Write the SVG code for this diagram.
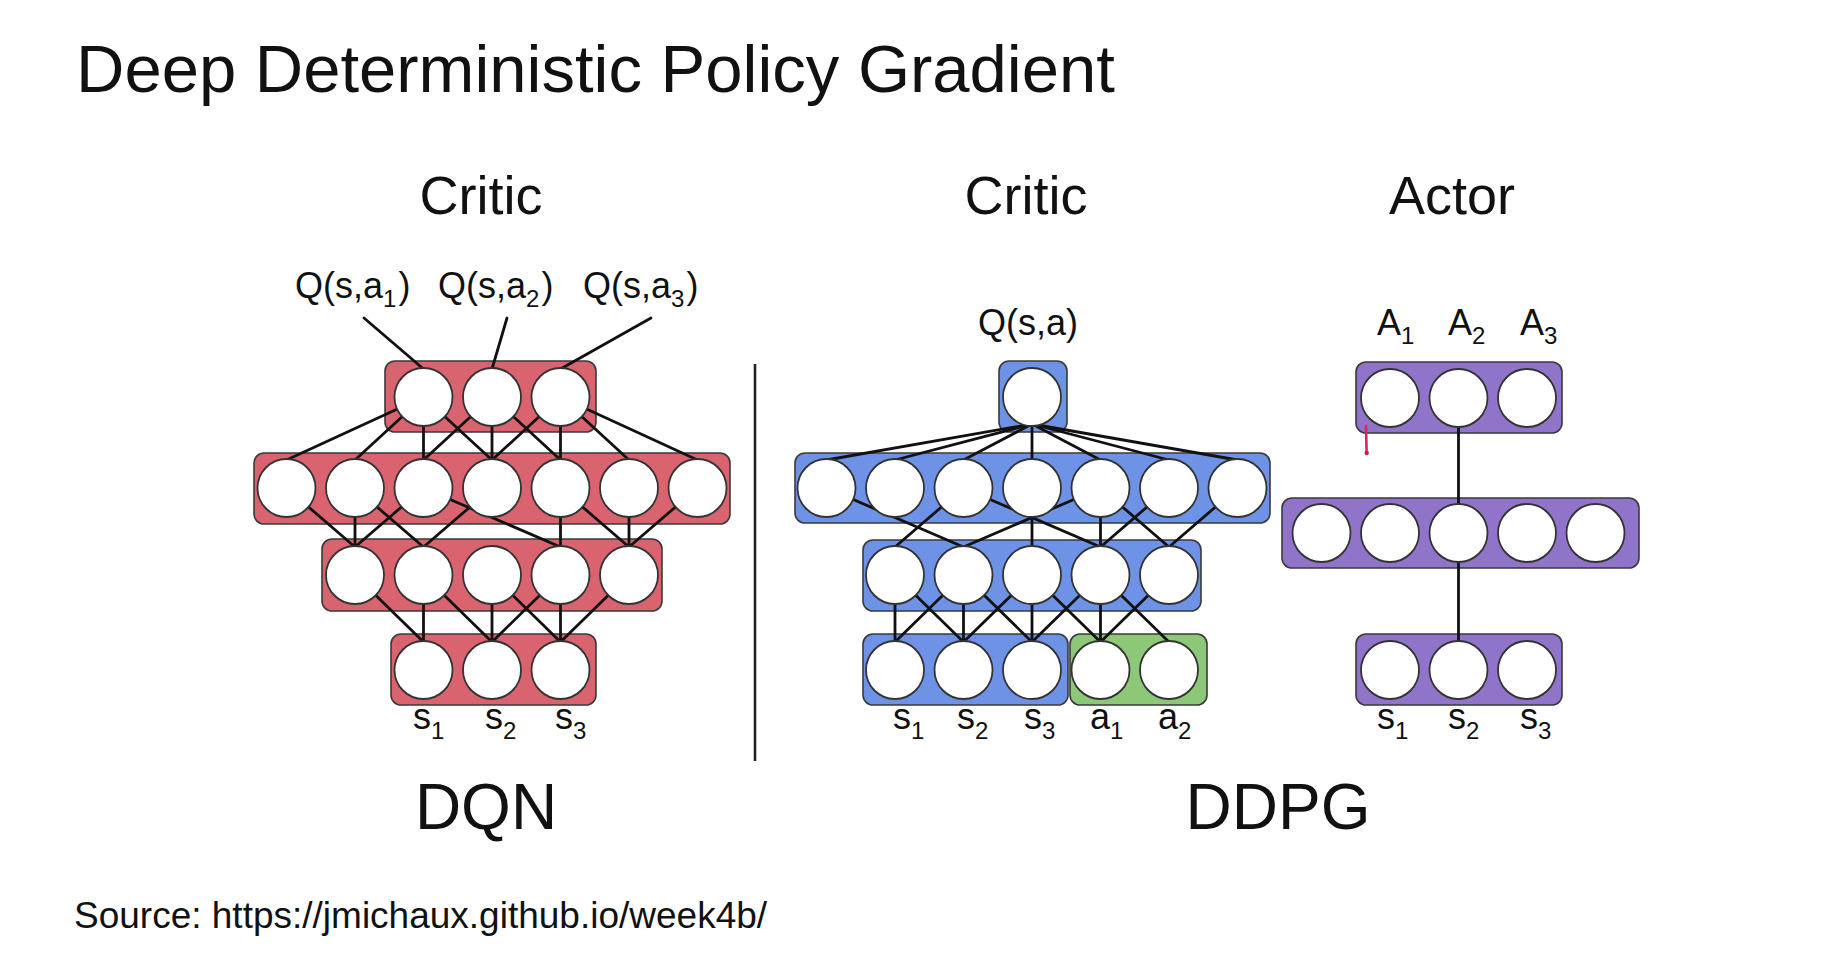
<svg xmlns="http://www.w3.org/2000/svg" width="1842" height="956" viewBox="0 0 1842 956">
<style>
.t{font-family:"Liberation Sans",Arial,Helvetica,sans-serif;fill:#111}
.title{font-size:67px}
.head{font-size:54px;text-anchor:middle}
.big{font-size:64px;text-anchor:middle}
.lbl{font-size:36px}
.sub{font-size:24px}
.src{font-size:37px}
.box{stroke:#3a3a3a;stroke-width:1.6}
.red{fill:#d9636e}
.blue{fill:#6e92e6}
.green{fill:#8cc878}
.purple{fill:#8f74c9}
.n circle{fill:#fff;stroke:#333;stroke-width:1.8}
.e line{stroke:#111;stroke-width:2.8;stroke-linecap:round}
</style>
<rect width="1842" height="956" fill="#fff"/>

<text class="t title" x="76" y="92">Deep Deterministic Policy Gradient</text>
<text class="t head" x="481" y="214">Critic</text>
<text class="t head" x="1026" y="214">Critic</text>
<text class="t head" x="1452" y="214">Actor</text>
<text class="t big" x="486" y="829">DQN</text>
<text class="t big" x="1278" y="829">DDPG</text>
<text class="t src" x="74" y="928">Source: https://jmichaux.github.io/week4b/</text>

<line x1="755" y1="364" x2="755" y2="761" stroke="#222" stroke-width="2.6"/>

<!-- layer boxes -->
<g id="boxes">
  <rect id="dqn-out-box" class="box red" x="385" y="361" width="211" height="71" rx="10"/>
  <rect id="dqn-h1-box" class="box red" x="254" y="453" width="476" height="71" rx="10"/>
  <rect id="dqn-h2-box" class="box red" x="322" y="539" width="340" height="72" rx="10"/>
  <rect id="dqn-in-box" class="box red" x="391" y="634" width="205" height="71" rx="10"/>

  <rect id="critic-out-box" class="box blue" x="999" y="361" width="68" height="71" rx="10"/>
  <rect id="critic-h1-box" class="box blue" x="795" y="453" width="475" height="70" rx="10"/>
  <rect id="critic-h2-box" class="box blue" x="863" y="540" width="338" height="71" rx="10"/>
  <rect id="critic-s-box" class="box blue" x="863" y="634" width="205" height="71" rx="10"/>
  <rect id="critic-a-box" class="box green" x="1070" y="634" width="137" height="71" rx="10"/>

  <rect id="actor-out-box" class="box purple" x="1356" y="362" width="206" height="71" rx="10"/>
  <rect id="actor-h-box" class="box purple" x="1282" y="498" width="357" height="70" rx="10"/>
  <rect id="actor-in-box" class="box purple" x="1356" y="634" width="206" height="71" rx="10"/>
</g>

<g id="connectors" class="e">
  <!-- DQN labels to outputs -->
  <line x1="364" y1="318" x2="423.5" y2="369"/>
  <line x1="507" y1="318" x2="492" y2="369"/>
  <line x1="651" y1="318" x2="560.5" y2="369"/>
  <!-- DQN out -> h1 -->
  <line x1="423.5" y1="397" x2="286.5" y2="460"/>
  <line x1="423.5" y1="397" x2="355" y2="460"/>
  <line x1="423.5" y1="397" x2="423.5" y2="460"/>
  <line x1="423.5" y1="397" x2="492" y2="460"/>
  <line x1="492" y1="397" x2="423.5" y2="460"/>
  <line x1="492" y1="397" x2="492" y2="460"/>
  <line x1="492" y1="397" x2="560.5" y2="460"/>
  <line x1="560.5" y1="397" x2="492" y2="460"/>
  <line x1="560.5" y1="397" x2="560.5" y2="460"/>
  <line x1="560.5" y1="397" x2="629" y2="460"/>
  <line x1="560.5" y1="397" x2="697.5" y2="460"/>
  <!-- DQN h1 -> h2 -->
  <line x1="286.5" y1="488" x2="355" y2="547"/>
  <line x1="355" y1="488" x2="355" y2="547"/>
  <line x1="423.5" y1="488" x2="355" y2="547"/>
  <line x1="355" y1="488" x2="423.5" y2="547"/>
  <line x1="423.5" y1="488" x2="560.5" y2="547"/>
  <line x1="492" y1="488" x2="423.5" y2="547"/>
  <line x1="560.5" y1="488" x2="560.5" y2="547"/>
  <line x1="560.5" y1="488" x2="629" y2="547"/>
  <line x1="629" y1="488" x2="629" y2="547"/>
  <line x1="697.5" y1="488" x2="629" y2="547"/>
  <!-- DQN h2 -> in -->
  <line x1="355" y1="575" x2="423.5" y2="642"/>
  <line x1="423.5" y1="575" x2="423.5" y2="642"/>
  <line x1="423.5" y1="575" x2="492" y2="642"/>
  <line x1="492" y1="575" x2="492" y2="642"/>
  <line x1="492" y1="575" x2="560.5" y2="642"/>
  <line x1="560.5" y1="575" x2="492" y2="642"/>
  <line x1="560.5" y1="575" x2="560.5" y2="642"/>
  <line x1="629" y1="575" x2="560.5" y2="642"/>

  <!-- Critic Q -> h1 -->
  <line x1="1032" y1="424" x2="826.5" y2="460"/>
  <line x1="1032" y1="424" x2="895" y2="460"/>
  <line x1="1032" y1="424" x2="963.5" y2="460"/>
  <line x1="1032" y1="424" x2="1032" y2="460"/>
  <line x1="1032" y1="424" x2="1100.5" y2="460"/>
  <line x1="1032" y1="424" x2="1169" y2="460"/>
  <line x1="1032" y1="424" x2="1237.5" y2="460"/>
  <!-- Critic h1 -> h2 -->
  <line x1="826.5" y1="488" x2="963.5" y2="547"/>
  <line x1="963.5" y1="488" x2="895" y2="547"/>
  <line x1="963.5" y1="488" x2="1100.5" y2="547"/>
  <line x1="1032" y1="488" x2="1032" y2="547"/>
  <line x1="1100.5" y1="488" x2="963.5" y2="547"/>
  <line x1="1100.5" y1="488" x2="1100.5" y2="547"/>
  <line x1="1100.5" y1="488" x2="1169" y2="547"/>
  <line x1="1169" y1="488" x2="1100.5" y2="547"/>
  <line x1="1237.5" y1="488" x2="1169" y2="547"/>
  <!-- Critic h2 -> inputs -->
  <line x1="895" y1="575" x2="895" y2="642"/>
  <line x1="895" y1="575" x2="963.5" y2="642"/>
  <line x1="963.5" y1="575" x2="895" y2="642"/>
  <line x1="963.5" y1="575" x2="963.5" y2="642"/>
  <line x1="963.5" y1="575" x2="1032" y2="642"/>
  <line x1="1032" y1="575" x2="963.5" y2="642"/>
  <line x1="1032" y1="575" x2="1032" y2="642"/>
  <line x1="1032" y1="575" x2="1100.5" y2="642"/>
  <line x1="1100.5" y1="575" x2="1032" y2="642"/>
  <line x1="1100.5" y1="575" x2="1100.5" y2="642"/>
  <line x1="1100.5" y1="575" x2="1169" y2="642"/>
  <line x1="1169" y1="575" x2="1100.5" y2="642"/>

  <!-- Actor -->
  <line x1="1458.5" y1="398" x2="1458.5" y2="505"/>
  <line x1="1458.5" y1="533" x2="1458.5" y2="642"/>
</g>

<g id="dqn-out" class="n"><circle cx="423.5" cy="397" r="29"/><circle cx="492" cy="397" r="29"/><circle cx="560.5" cy="397" r="29"/></g>
<g id="dqn-h1" class="n"><circle cx="286.5" cy="488" r="29"/><circle cx="355" cy="488" r="29"/><circle cx="423.5" cy="488" r="29"/><circle cx="492" cy="488" r="29"/><circle cx="560.5" cy="488" r="29"/><circle cx="629" cy="488" r="29"/><circle cx="697.5" cy="488" r="29"/></g>
<g id="dqn-h2" class="n"><circle cx="355" cy="575" r="29"/><circle cx="423.5" cy="575" r="29"/><circle cx="492" cy="575" r="29"/><circle cx="560.5" cy="575" r="29"/><circle cx="629" cy="575" r="29"/></g>
<g id="dqn-in" class="n"><circle cx="423.5" cy="670" r="29"/><circle cx="492" cy="670" r="29"/><circle cx="560.5" cy="670" r="29"/></g>

<g id="critic-out" class="n"><circle cx="1032" cy="397" r="29"/></g>
<g id="critic-h1" class="n"><circle cx="826.5" cy="488" r="29"/><circle cx="895" cy="488" r="29"/><circle cx="963.5" cy="488" r="29"/><circle cx="1032" cy="488" r="29"/><circle cx="1100.5" cy="488" r="29"/><circle cx="1169" cy="488" r="29"/><circle cx="1237.5" cy="488" r="29"/></g>
<g id="critic-h2" class="n"><circle cx="895" cy="575" r="29"/><circle cx="963.5" cy="575" r="29"/><circle cx="1032" cy="575" r="29"/><circle cx="1100.5" cy="575" r="29"/><circle cx="1169" cy="575" r="29"/></g>
<g id="critic-s" class="n"><circle cx="895" cy="670" r="29"/><circle cx="963.5" cy="670" r="29"/><circle cx="1032" cy="670" r="29"/></g>
<g id="critic-a" class="n"><circle cx="1100.5" cy="670" r="29"/><circle cx="1169" cy="670" r="29"/></g>

<g id="actor-out" class="n"><circle cx="1390" cy="398" r="29"/><circle cx="1458.5" cy="398" r="29"/><circle cx="1527" cy="398" r="29"/></g>
<g id="actor-h" class="n"><circle cx="1321.5" cy="533" r="29"/><circle cx="1390" cy="533" r="29"/><circle cx="1458.5" cy="533" r="29"/><circle cx="1527" cy="533" r="29"/><circle cx="1595.5" cy="533" r="29"/></g>
<g id="actor-in" class="n"><circle cx="1390" cy="670" r="29"/><circle cx="1458.5" cy="670" r="29"/><circle cx="1527" cy="670" r="29"/></g>

<path d="M1366,426 L1366.6,452" stroke="#d6265a" stroke-width="2.6" stroke-linecap="round" fill="none"/>
<circle cx="1366.7" cy="453" r="2.2" fill="#c81e4f"/>

<g id="labels" class="t">
  <text class="lbl" x="295" y="298">Q(s,a<tspan class="sub" dy="9">1</tspan><tspan dy="-9" dx="2">)</tspan></text>
  <text class="lbl" x="438" y="298">Q(s,a<tspan class="sub" dy="9">2</tspan><tspan dy="-9" dx="2">)</tspan></text>
  <text class="lbl" x="583" y="298">Q(s,a<tspan class="sub" dy="9">3</tspan><tspan dy="-9" dx="2">)</tspan></text>
  <text class="lbl" x="978" y="335">Q(s,a)</text>
  <text class="lbl" x="1377" y="335">A<tspan class="sub" dy="9">1</tspan></text>
  <text class="lbl" x="1448" y="335">A<tspan class="sub" dy="9">2</tspan></text>
  <text class="lbl" x="1520" y="335">A<tspan class="sub" dy="9">3</tspan></text>

  <text class="lbl" x="413" y="729">s<tspan class="sub" dy="10">1</tspan></text>
  <text class="lbl" x="485" y="729">s<tspan class="sub" dy="10">2</tspan></text>
  <text class="lbl" x="555" y="729">s<tspan class="sub" dy="10">3</tspan></text>

  <text class="lbl" x="893" y="729">s<tspan class="sub" dy="10">1</tspan></text>
  <text class="lbl" x="957" y="729">s<tspan class="sub" dy="10">2</tspan></text>
  <text class="lbl" x="1024" y="729">s<tspan class="sub" dy="10">3</tspan></text>
  <text class="lbl" x="1090" y="729">a<tspan class="sub" dy="10">1</tspan></text>
  <text class="lbl" x="1158" y="729">a<tspan class="sub" dy="10">2</tspan></text>

  <text class="lbl" x="1377" y="729">s<tspan class="sub" dy="10">1</tspan></text>
  <text class="lbl" x="1448" y="729">s<tspan class="sub" dy="10">2</tspan></text>
  <text class="lbl" x="1520" y="729">s<tspan class="sub" dy="10">3</tspan></text>
</g>
</svg>
